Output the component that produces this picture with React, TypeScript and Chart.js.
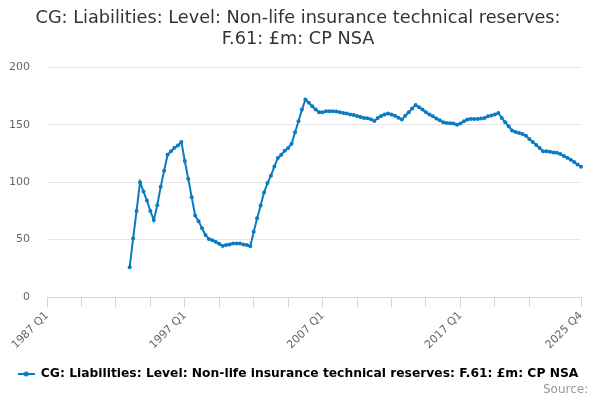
import { useEffect, useRef } from "react";
import { Chart, registerables } from "chart.js";

Chart.register(...registerables);

// quarters 1987 Q1 .. 2025 Q4
const firstYear = 1987;
const lastYear = 2025;
const quarters: string[] = [];
for (let y = firstYear; y <= lastYear; y++) {
  for (let q = 1; q <= 4; q++) quarters.push(`${y} Q${q}`);
}

// series starts in 1993 Q1, nothing before
const seriesStart = "1993 Q1";
const reserves = [
  26, 51, 75, 100, 92, 84, 75, 67, 80, 96, 110, 124, 127, 130, 132, 135,
  118.5, 103, 87, 71, 66, 60, 54, 50.5, 49.5, 48, 46.3, 44.5, 45.4, 45.7, 46.6, 46.6,
  46.6, 45.7, 45.4, 44.3, 56.8, 68.7, 79.7, 91.1, 99.3, 105.7, 113.8, 121.1, 124, 127.5,
  129.8, 133.6, 143.5, 153.1, 163.3, 172, 169.2, 166.2, 163.3, 161, 161, 161.8, 161.8,
  161.8, 161.6, 161, 160.4, 159.8, 159, 158.7, 157.8, 156.9, 156, 155.7, 154.9, 153.4,
  156, 157.8, 159, 159.8, 159, 158, 156.3, 154.6, 158, 161, 164.2, 167.4, 165.3, 163.3,
  161, 159, 157.5, 155.5, 154, 152.2, 151.7, 151.4, 151.1, 150, 151.1, 153.1, 154.6,
  155.2, 155.2, 155.2, 155.5, 156, 157.5, 158.1, 159, 160.4, 156, 152.2, 148.7, 145,
  143.8, 143, 142.1, 140.6, 137.7, 135.1, 132.5, 129.9, 126.9, 126.9, 126.6, 126, 125.8,
  124.6, 122.9, 121.4, 119.7, 117.6, 115.5, 113.5,
];

const labelledQuarters = ["1987 Q1", "1997 Q1", "2007 Q1", "2017 Q1", "2025 Q4"];
const tickQuarters = [
  "1987 Q1", "1989 Q3", "1992 Q1", "1994 Q3", "1997 Q1", "1999 Q3", "2002 Q1", "2004 Q3",
  "2007 Q1", "2009 Q3", "2012 Q1", "2014 Q3", "2017 Q1", "2019 Q3", "2022 Q1", "2025 Q4",
];

const seriesName = "CG: Liabilities: Level: Non-life insurance technical reserves: F.61: £m: CP NSA";
const titleLines = ["CG: Liabilities: Level: Non-life insurance technical reserves:", "F.61: £m: CP NSA"];
const blue = "#0a7bc2";

function legendSymbol() {
  const c = document.createElement("canvas");
  c.width = 17;
  c.height = 6;
  const ctx = c.getContext("2d")!;
  ctx.strokeStyle = blue;
  ctx.lineWidth = 2;
  ctx.beginPath();
  ctx.moveTo(0, 3);
  ctx.lineTo(17, 3);
  ctx.stroke();
  ctx.fillStyle = blue;
  ctx.beginPath();
  ctx.arc(8.5, 3, 2.5, 0, Math.PI * 2);
  ctx.fill();
  return c;
}

export default function App() {
  const canvasRef = useRef<HTMLCanvasElement | null>(null);

  useEffect(() => {
    if (!canvasRef.current) return;
    Chart.defaults.font.family = "'DejaVu Sans', sans-serif";
    const offset = quarters.indexOf(seriesStart);
    const data = quarters.map((_, i) => (i >= offset ? reserves[i - offset] ?? null : null));
    const tickIdx = tickQuarters.map((q) => quarters.indexOf(q));
    const symbol = legendSymbol();

    const chart = new Chart(canvasRef.current, {
      type: "line",
      data: {
        labels: quarters,
        datasets: [
          {
            label: seriesName,
            data,
            borderColor: blue,
            backgroundColor: blue,
            borderWidth: 2,
            pointStyle: "circle",
            pointRadius: 2,
            pointHoverRadius: 3,
            pointBorderWidth: 0,
            tension: 0,
          },
        ],
      },
      options: {
        animation: false,
        responsive: false,
        layout: { padding: { left: 4, right: 8, top: 0, bottom: 0 } },
        plugins: {
          title: {
            display: true,
            text: titleLines,
            color: "#333333",
            font: { size: 17.7, weight: "normal", lineHeight: 1.2 },
            padding: { top: 8, bottom: 17 },
          },
          legend: {
            position: "bottom",
            labels: {
              color: "#333333",
              font: { size: 12.3, weight: "bold" },
              usePointStyle: true,
              pointStyleWidth: 17,
              padding: 5,
              generateLabels: () => [
                {
                  text: seriesName,
                  fillStyle: blue,
                  strokeStyle: blue,
                  lineWidth: 0,
                  pointStyle: symbol,
                  datasetIndex: 0,
                  hidden: false,
                },
              ],
            },
          },
          subtitle: {
            display: true,
            position: "bottom",
            align: "end",
            text: "Source: ",
            color: "#999999",
            font: { size: 12, weight: "normal", lineHeight: 1.2 },
            padding: { top: -7.35, bottom: 2.8 },
          },
          tooltip: { enabled: false },
        },
        scales: {
          x: {
            type: "category",
            offset: false,
            border: { display: true, color: "#ccd6eb", width: 1 },
            grid: { drawOnChartArea: false, drawTicks: true, tickLength: 10, color: "#ccd6eb" },
            afterBuildTicks: (scale: any) => {
              scale.ticks = tickIdx.map((v) => ({ value: v }));
            },
            afterFit: (scale: any) => {
              scale.height = 65.85;
            },
            ticks: {
              autoSkip: false,
              minRotation: 45,
              maxRotation: 45,
              padding: 2,
              color: "#666666",
              font: { size: 11 },
              callback: (value: any) => {
                const q = quarters[value as number];
                return labelledQuarters.includes(q) ? q : "";
              },
            },
          },
          y: {
            min: 0,
            max: 200,
            border: { display: false },
            grid: { color: "#e6e6e6", drawTicks: false },
            afterFit: (scale: any) => {
              scale.width = 43;
            },
            ticks: { stepSize: 50, padding: 17, color: "#666666", font: { size: 11 } },
          },
          // empty strip on the right of the plot
          y2: {
            position: "right",
            display: true,
            border: { display: false },
            grid: { display: false, drawTicks: false },
            ticks: { display: false },
            afterFit: (scale: any) => {
              scale.width = 11;
            },
          },
        },
      },
    });
    return () => chart.destroy();
  }, []);

  return (
    <div style={{ position: "absolute", left: 0, top: 0, width: 600, height: 400, background: "#fff" }}>
      <canvas ref={canvasRef} width={600} height={400} style={{ width: 600, height: 400 }} />
    </div>
  );
}
